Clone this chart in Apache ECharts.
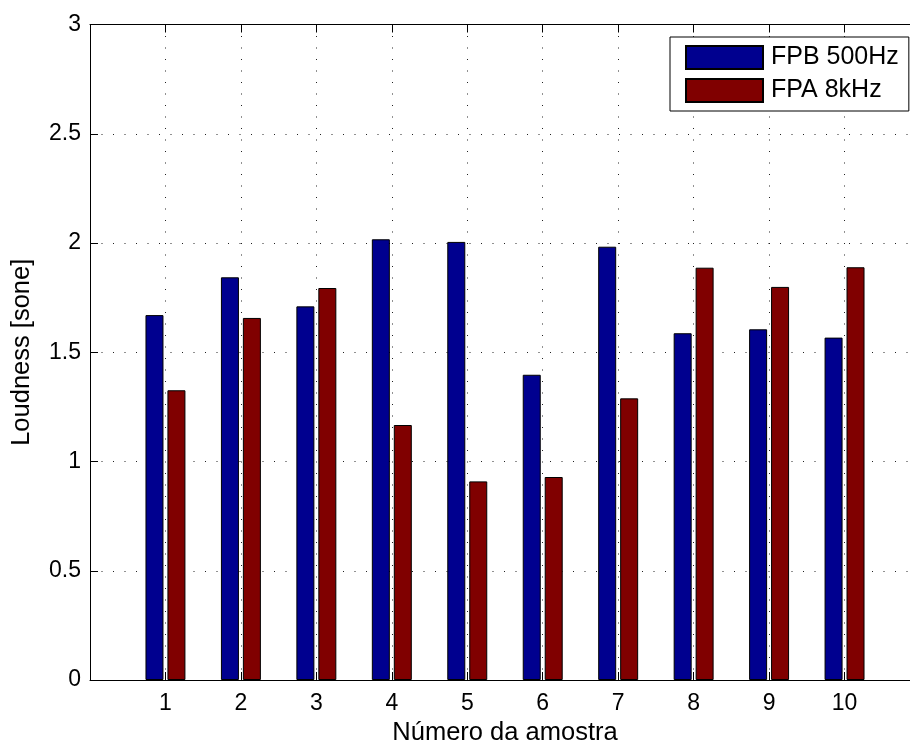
<!DOCTYPE html>
<html>
<head>
<meta charset="utf-8">
<title>Loudness por amostra</title>
<script src="https://cdn.jsdelivr.net/npm/echarts@6/dist/echarts.min.js"></script>
<style>
  html, body { margin: 0; padding: 0; background: #fff; overflow: hidden; }
  /* the axes box continues a little past the right edge of the window */
  #chart { width: 940px; height: 744px; }
</style>
</head>
<body>
<div id="chart"></div>
<script>
// Sample numbers on the horizontal axis
const amostras = [1, 2, 3, 4, 5, 6, 7, 8, 9, 10];
// Loudness (sone) for the low-pass filtered signal, 500 Hz
const fpb500 = [1.670, 1.843, 1.710, 2.017, 2.005, 1.397, 1.983, 1.587, 1.605, 1.567];
// Loudness (sone) for the high-pass filtered signal, 8 kHz
const fpa8k = [1.326, 1.657, 1.794, 1.167, 0.909, 0.929, 1.289, 1.887, 1.799, 1.889];
const serieNomes = ['FPB 500Hz', 'FPA 8kHz'];
const eixoX = 'Número da amostra';
const eixoY = 'Loudness [sone]';

const FONT = '"Liberation Sans", Arial, Helvetica, sans-serif';
const dotted = { color: '#222', width: 1, type: [1, 10.5] };

const chart = echarts.init(document.getElementById('chart'), null, { renderer: 'canvas' });

const pairs = vals => amostras.map((a, i) => [a, vals[i]]);

chart.setOption({
  animation: false,
  backgroundColor: '#fff',
  textStyle: { fontFamily: FONT, color: '#000' },
  grid: { left: 90, top: 24.5, width: 830, height: 655.5, containLabel: false, outerBoundsMode: 'none' },
  legend: {
    orient: 'vertical',
    left: 670,
    top: 37,
    padding: [8, 10, 8, 15],
    itemWidth: 77,
    itemHeight: 23,
    itemGap: 8,
    icon: 'rect',
    backgroundColor: '#fff',
    borderColor: '#000',
    borderWidth: 1,
    textStyle: { fontFamily: FONT, fontSize: 25, color: '#000', padding: [0, 0, 0, 3] },
    data: serieNomes
  },
  xAxis: [
    {
      type: 'value',
      min: 0, max: 11, interval: 1,
      position: 'bottom',
      name: eixoX,
      nameLocation: 'middle',
      nameGap: 38,
      nameTextStyle: { fontFamily: FONT, fontSize: 25.5, color: '#000' },
      axisLine: { show: true, onZero: false, lineStyle: { color: '#000', width: 1 } },
      axisTick: { show: true, inside: true, length: 8, lineStyle: { color: '#000' } },
      axisLabel: {
        fontFamily: FONT, fontSize: 23, color: '#000', margin: 12,
        formatter: v => (v >= 1 && v <= 10 ? String(v) : '')
      },
      splitLine: { show: true, showMinLine: false, showMaxLine: false, lineStyle: dotted }
    },
    {
      type: 'value',
      min: 0, max: 11, interval: 1,
      position: 'top',
      axisLine: { show: true, onZero: false, lineStyle: { color: '#000', width: 1 } },
      axisTick: { show: true, inside: true, length: 8, lineStyle: { color: '#000' } },
      axisLabel: { show: false },
      splitLine: { show: false }
    }
  ],
  yAxis: {
    type: 'value',
    min: 0, max: 3, interval: 0.5,
    name: eixoY,
    nameLocation: 'middle',
    nameGap: 55,
    nameTextStyle: { fontFamily: FONT, fontSize: 25.5, color: '#000' },
    axisLine: { show: true, lineStyle: { color: '#000', width: 1 } },
    axisTick: { show: true, inside: true, length: 8, lineStyle: { color: '#000' } },
    axisLabel: { fontFamily: FONT, fontSize: 23, color: '#000', margin: 9 },
    splitLine: { show: true, showMinLine: false, showMaxLine: false, lineStyle: dotted }
  },
  series: [
    {
      name: serieNomes[0],
      type: 'bar',
      barWidth: 18,
      barGap: '22%',
      itemStyle: { color: '#00008F', borderColor: '#000', borderWidth: 1 },
      data: pairs(fpb500)
    },
    {
      name: serieNomes[1],
      type: 'bar',
      barWidth: 18,
      barGap: '22%',
      itemStyle: { color: '#800000', borderColor: '#000', borderWidth: 1 },
      data: pairs(fpa8k)
    }
  ]
});
</script>
</body>
</html>
